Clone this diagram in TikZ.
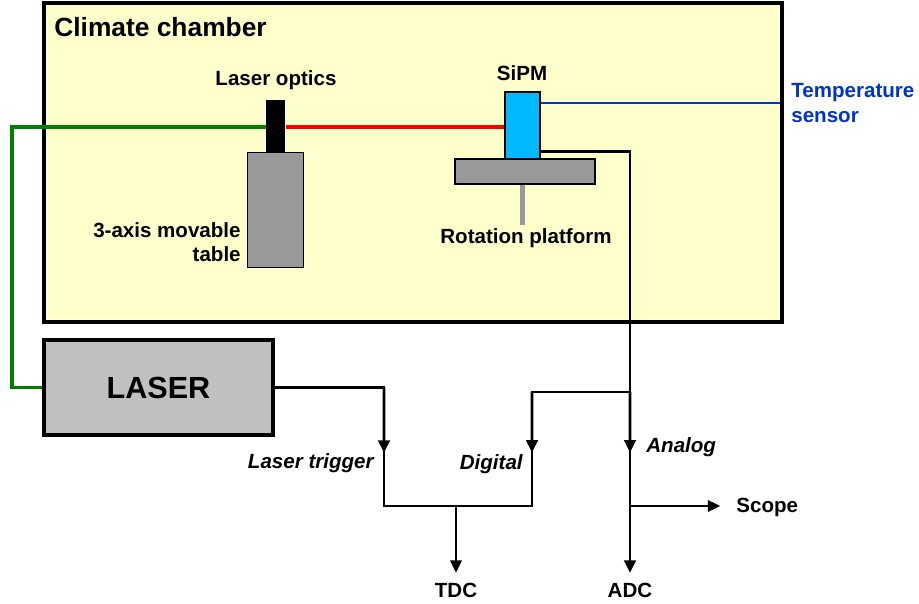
\documentclass[tikz,border=0pt]{standalone}
\usepackage{fontspec}
\setmainfont{Liberation Sans}
\usetikzlibrary{arrows.meta,positioning,calc}
\definecolor{chamberyel}{HTML}{FFFFCC}
\definecolor{tablegray}{HTML}{999999}
\definecolor{lasergray}{HTML}{C0C0C0}
\definecolor{sipmcyan}{RGB}{0,185,255}
\definecolor{fibergreen}{HTML}{008000}
\definecolor{sensorblue}{HTML}{0033CC}
\begin{document}
\begin{tikzpicture}[x=0.02cm,y=-0.02cm,>={Triangle[length=7pt,width=6.6pt]},
 font=\bfseries\fontsize{11.7}{14}\selectfont,
 box/.style={draw,inner sep=0pt,line width=0.7pt},
 lbl/.style={inner sep=0pt,align=center},
 sig/.style={line width=1.5pt},
 tap/.style={line width=0.9pt,->},
 sel/.style={inner sep=0pt,font=\bfseries\itshape\fontsize{11.7}{14}\selectfont}]
\useasboundingbox (0,0) rectangle (919,604);
\node[box,line width=1.8pt,fill=chamberyel,minimum width=14.76cm,minimum height=6.38cm] (chamber) at (413,162.5) {};
\node[lbl,anchor=west,font=\bfseries\fontsize{15}{18}\selectfont] (title) at (54,27) {Climate chamber};
\node[box,fill=lasergray,line width=1.8pt,minimum width=4.58cm,minimum height=1.9cm,font=\bfseries\fontsize{17.4}{20}\selectfont] (laser) at (158.5,387.5) {LASER};
% beam
\coordinate (gc) at (12,127);
\draw[fibergreen,line width=2.2pt] (laser.west) -| (gc) -- (gc -| 266,0);
\node[box,draw=none,fill=tablegray,minimum width=1.1cm,minimum height=2.28cm] (table) at (275.5,210) {};
\node[box,draw=none,fill=black,minimum width=0.38cm,minimum height=1.06cm] (optics) at (275.5,126.5) {};
\draw[box,draw] (table.south west) rectangle (table.north east);
\node[box,fill=sipmcyan,line width=1.5pt,minimum width=0.7cm,minimum height=1.34cm] (sipm) at (522.5,125.5) {};
\node[box,fill=tablegray,minimum width=2.8cm,minimum height=0.5cm] (platform) at (525,171.5) {};
\draw[red,line width=2.2pt] (optics.east |- gc) -- (sipm.west |- gc);
\node[lbl] (opticslbl) at (276,80) {Laser optics};
\node[lbl] (sipmlbl) at (522,73) {SiPM};
\node[lbl,align=right,anchor=east] (tablelbl) at (241,242) {3-axis movable\\table};
\node[lbl] (rotlbl) at (526,238) {Rotation platform};
\draw[tablegray,line width=2.4pt] (sipm.south |- platform.south) -- (sipm.south |- 0,225);
\node[lbl,align=left,anchor=west,text=sensorblue] (temp) at (791,103) {Temperature\\sensor};
\draw[sensorblue,line width=1.1pt,shorten >=6pt] (sipm.east |- temp.west) -- (temp.west);
% readout
\node[lbl] (tdc) at (456,590) {TDC};
\node[lbl] (adc) at (630,590) {ADC};
\node[lbl,anchor=west] (scope) at (736,507) {Scope};
\coordinate (br) at (630,392);
\coordinate (dg) at (532,392);
\coordinate (jn) at (456,506);
\coordinate (sc) at (630,506);
\coordinate (tr) at (384,506);
\draw[sig,->,shorten >=5.5pt] ([yshift=0.18cm]sipm.south east) -| (adc.north);
\draw[sig,->] (br) -- ($(br)!.53!(sc)$);
\draw[sig] (br) -- (dg) |- (jn);
\draw[sig,->] (dg) -- ($(dg)!.53!(dg |- jn)$);
\draw[sig] (laser.east) -| (tr) -- (jn);
\draw[sig,->] (laser.east -| tr) -- ($(laser.east -| tr)!.55!(tr)$);
\draw[tap,shorten >=5.5pt] (jn) -- (tdc.north);
\draw[tap,shorten >=9pt] (sc) -- (sc -| scope.west);
\node[sel,anchor=east] (trglbl) at (374,463) {Laser trigger};
\node[sel,anchor=east] (diglbl) at (523,464) {Digital};
\node[sel,anchor=west] (anlbl) at (646,447) {Analog};
\end{tikzpicture}
\end{document}
